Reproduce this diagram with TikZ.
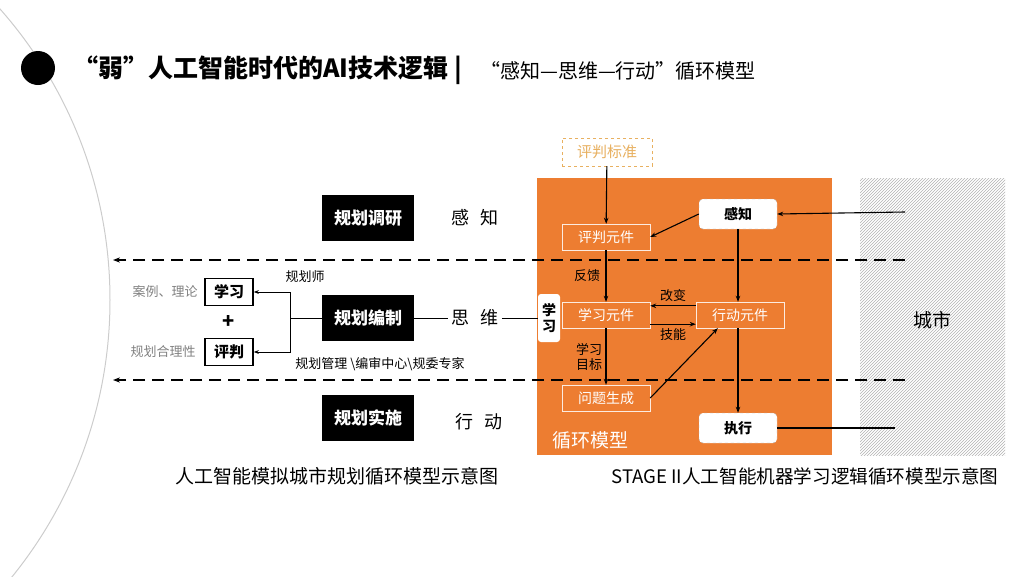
\documentclass[tikz,border=0pt]{standalone}
\usepackage{fontspec}
\setmainfont{Noto Sans CJK SC}
\usetikzlibrary{arrows.meta,patterns}
\definecolor{org}{HTML}{ED7D31}
\definecolor{lorg}{HTML}{E8B060}
\tikzset{
 blk/.style={fill=black,text=white,font=\bfseries\fontsize{17}{19}\selectfont,minimum width=92pt,minimum height=46pt,inner sep=0pt},
 wbox/.style={draw=black,line width=1.6pt,font=\bfseries\fontsize{15}{17}\selectfont,minimum width=48pt,minimum height=27pt,inner sep=0pt},
 elem/.style={draw=white!85!org,text=white,font=\fontsize{14}{16}\selectfont,minimum width=88pt,minimum height=26pt,inner sep=0pt},
 wnode/.style={fill=white,draw=gray!60,dashed,rounded corners=4pt,font=\bfseries\fontsize{14}{16}\selectfont,minimum width=78pt,minimum height=30pt,inner sep=0pt},
 lab/.style={font=\fontsize{13}{15}\selectfont},
 arr/.style={-{Stealth[length=6pt]},line width=1.1pt},
 dashline/.style={dashed,dash pattern=on 12pt off 7pt,line width=1.3pt},
}
\begin{document}
\begin{tikzpicture}[x=1pt,y=-1pt]
\useasboundingbox (0,0) rectangle (1024,576);
\begin{scope}
\clip (0,0) rectangle (1024,576);
\draw[gray!40,line width=1pt] (-330,300) circle (440);
\end{scope}
\fill (38,68) circle (17);
\node[anchor=west,font=\bfseries\fontsize{25}{28}\selectfont,inner sep=0pt] (t1) at (73,70) {“弱”人工智能时代的AI技术逻辑 |};
\node[anchor=west,font=\fontsize{20}{23}\selectfont,inner sep=0pt] (t2) at (480,71) {“感知—思维—行动”循环模型};
% orange and hatch
\fill[org] (537,178) rectangle (832,455);
\fill[pattern=north east lines,pattern color=gray!60] (860,178) rectangle (1005,455);
\node[font=\fontsize{19}{22}\selectfont] (city) at (932,320) {城市};
% dashed lines
\coordinate (d1a) at (905,260); \coordinate (d1b) at (113,260);
\coordinate (d2a) at (905,380); \coordinate (d2b) at (113,380);
\draw[dashline,-{Stealth[length=7pt]}] (d1a) -- (d1b);
\draw[dashline,-{Stealth[length=7pt]}] (d2a) -- (d2b);
% left
\node[blk] (b1) at (368,218) {规划调研};
\node[blk] (b2) at (368,318) {规划编制};
\node[blk] (b3) at (368,418) {规划实施};
\node[font=\fontsize{18}{20}\selectfont] (s1) at (475,218) {感\hspace{0.6em}知};
\node[font=\fontsize{18}{20}\selectfont] (s2) at (475,318) {思\hspace{0.6em}维};
\node[font=\fontsize{18}{20}\selectfont] (s3) at (479,422) {行\hspace{0.6em}动};
\node[wbox] (xx) at (229,292) {学习};
\node[font=\bfseries\fontsize{20}{22}\selectfont] (plus) at (229,322) {+};
\node[wbox] (pp) at (229,352) {评判};
\node[lab,text=gray] (g1) at (165,292) {案例、理论};
\node[lab,text=gray] (g2) at (163,352) {规划合理性};
\node[lab] (gh) at (305,277) {规划师};
\node[lab] (gl) at (380,364) {规划管理 \textbackslash 编审中心\textbackslash 规委专家};
\coordinate (br) at (290,318);
\draw[line width=0.8pt] (b2.west) -- (br);
\draw[line width=0.8pt,-{Stealth[length=5pt]}] (br) |- (xx.east);
\draw[line width=0.8pt,-{Stealth[length=5pt]}] (br) |- (pp.east);
% right
\node[fill=white,rounded corners=3pt,font=\bfseries\fontsize{14}{16}\selectfont,align=center,minimum width=22pt,minimum height=48pt,inner sep=1pt] (xv) at (549,318) {学\\习};
\draw[line width=0.8pt] (b2.east) -- (s2.west);
\draw[line width=0.8pt] (s2.east) -- (xv.west);
\node[draw=lorg,dashed,text=lorg,fill=white,font=\fontsize{15}{17}\selectfont,minimum width=90pt,minimum height=28pt,inner sep=0pt] (bz) at (607,152) {评判标准};
\node[wnode] (gz) at (738,214) {感知};
\node[wnode] (zx) at (738,428) {执行};
\node[elem] (pj) at (606,237) {评判元件};
\node[elem] (xy) at (606,315) {学习元件};
\node[elem] (xd) at (740,315) {行动元件};
\node[elem] (wt) at (606,398) {问题生成};
\draw[arr] (bz) -- (pj);
\draw[arr] (gz.west) -- (pj.east);
\draw[arr] (gz.south) -- (xd.north -| gz.south);
\draw[arr] (pj) -- node[left,lab,xshift=-2pt]{反馈} (xy);
\draw[arr] ([yshift=-4pt]xd.north west) -- node[above,lab]{改变} ([yshift=-4pt]xy.north east);
\draw[arr] ([yshift=4pt]xy.south east) -- node[below,lab]{技能} ([yshift=4pt]xd.south west);
\draw[arr] (xy) -- node[left,lab,align=center,xshift=0pt]{学习\\目标} (wt);
\draw[arr] (wt.east) -- ([xshift=22pt]xd.south west);
\draw[arr] (xd.south -| gz.south) -- (zx.north);
\node[text=white,font=\fontsize{19}{22}\selectfont] (xh) at (590,440) {循环模型};
\coordinate (cin) at (905,212);
\coordinate (cout) at (895,428);
\draw[arr] (cin) -- (gz.east);
\draw[line width=1.1pt] (zx.east) -- (cout);
\node[font=\fontsize{19}{22}\selectfont] (c1) at (337,476) {人工智能模拟城市规划循环模型示意图};
\node[font=\fontsize{18.6}{22}\selectfont] (c2) at (805,476) {STAGE II人工智能机器学习逻辑循环模型示意图};
\end{tikzpicture}
\end{document}
